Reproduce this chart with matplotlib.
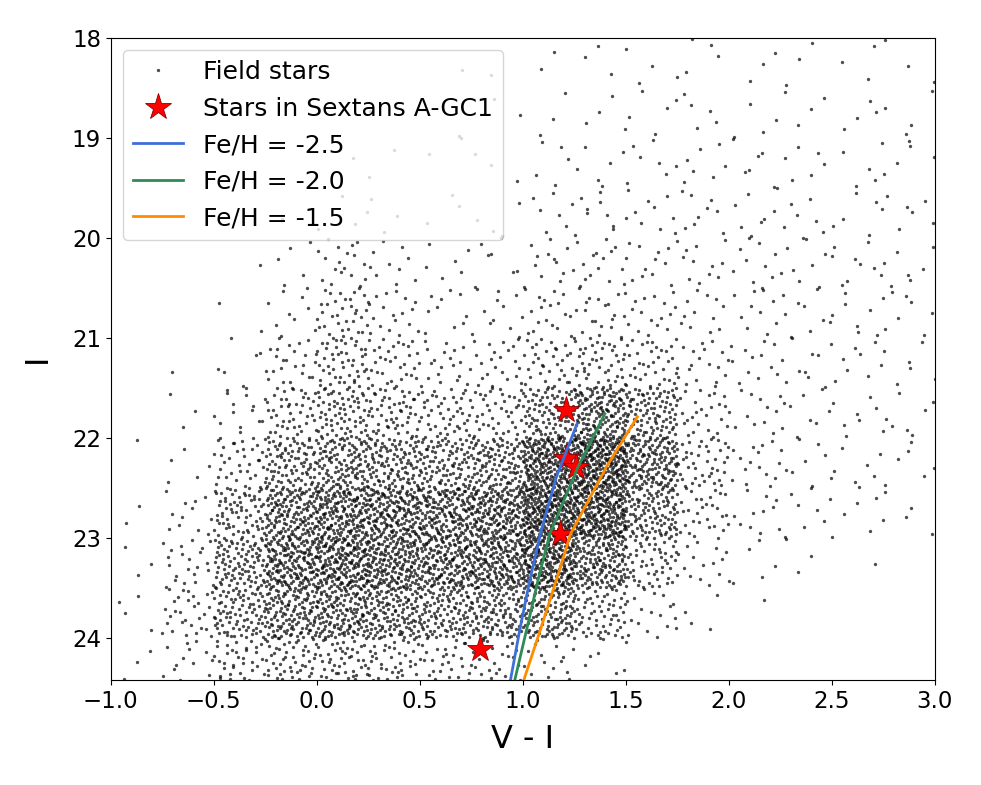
import numpy as np
import matplotlib
matplotlib.use('Agg')
import matplotlib.pyplot as plt

# field stars: counts per cell (V-I step 0.25, I step 0.5)
vi_edges = np.arange(-1.0, 3.01, 0.25)
i_edges = np.arange(18.0, 24.51, 0.5)
field_counts = [
    # -1.0 ... 3.0 in V-I
    [0, 0, 0, 0, 0, 0, 1, 1, 2, 3, 4, 4, 3, 3, 3, 3],                   # 18.0-18.5
    [0, 0, 0, 0, 0, 1, 1, 2, 3, 4, 5, 5, 4, 4, 4, 4],                   # 18.5-19.0
    [0, 0, 0, 0, 1, 2, 2, 3, 5, 6, 7, 7, 6, 6, 5, 5],                   # 19.0-19.5
    [0, 0, 0, 1, 4, 3, 3, 4, 7, 10, 9, 9, 8, 7, 6, 6],                  # 19.5-20.0
    [0, 0, 1, 5, 18, 10, 6, 7, 13, 15, 13, 11, 10, 9, 8, 7],            # 20.0-20.5
    [0, 0, 2, 10, 35, 18, 10, 12, 18, 20, 16, 12, 10, 9, 8, 7],         # 20.5-21.0
    [0, 1, 6, 25, 50, 32, 20, 22, 35, 45, 35, 18, 12, 10, 8, 6],        # 21.0-21.5
    [0, 3, 16, 45, 70, 55, 45, 40, 90, 150, 100, 25, 12, 9, 8, 7],      # 21.5-22.0
    [1, 5, 35, 90, 115, 105, 95, 110, 230, 280, 150, 40, 15, 9, 7, 6],  # 22.0-22.5
    [2, 12, 70, 150, 180, 175, 165, 180, 280, 250, 110, 30, 11, 8, 6, 4],  # 22.5-23.0
    [3, 22, 95, 175, 195, 180, 165, 180, 240, 150, 55, 15, 5, 3, 1, 0],    # 23.0-23.5
    [4, 30, 85, 130, 140, 125, 105, 110, 120, 60, 18, 4, 1, 0, 0, 0],      # 23.5-24.0
    [3, 15, 40, 55, 55, 45, 32, 25, 18, 8, 2, 0, 0, 0, 0, 0],              # 24.0-24.5
]

# stars in Sextans A-GC1
gc_vi = [1.21, 1.21, 1.26, 1.18, 0.79]
gc_i = [21.72, 22.20, 22.29, 22.96, 24.11]

# isochrones
iso_labels = ['Fe/H = -2.5', 'Fe/H = -2.0', 'Fe/H = -1.5']
iso_colors = ['#3d6fd9', '#2e8b57', '#ff8c00']
iso_i = [
    [21.86, 22.39, 22.92, 23.42, 23.92, 24.42],
    [21.76, 22.29, 22.96, 23.42, 23.92, 24.42],
    [21.79, 22.29, 22.96, 23.42, 23.92, 24.42],
]
iso_vi = [
    [1.263, 1.163, 1.090, 1.034, 0.985, 0.940],
    [1.398, 1.268, 1.131, 1.074, 1.018, 0.961],
    [1.556, 1.406, 1.232, 1.163, 1.085, 1.005],
]


def radical_inverse(idx, base):
    # van der Corput sequence, used to spread a cell's count over the cell
    out = np.zeros(len(idx))
    f = 1.0 / base
    idx = idx.copy()
    while np.any(idx > 0):
        out += f * (idx % base)
        idx //= base
        f /= base
    return out


xs, ys = [], []
for r, row in enumerate(field_counts):
    for c, n in enumerate(row):
        if n == 0:
            continue
        k = np.arange(n) + (r * 16 + c) * 211 + 1
        xs.append(vi_edges[c] + radical_inverse(k, 2) * 0.25)
        ys.append(i_edges[r] + radical_inverse(k, 3) * 0.5)
field_vi = np.concatenate(xs)
field_i = np.concatenate(ys)

fig = plt.figure(figsize=(9.81, 7.85), dpi=100)
ax = fig.add_axes([0.113, 0.134, 0.840, 0.818])

ax.plot(field_vi, field_i, 'o', color='k', ms=2.4, alpha=0.7, mew=0,
        label='Field stars')
ax.plot(gc_vi, gc_i, '*', color='red', mec='#8b0000', mew=0.6, ms=20,
        ls='none', label='Stars in Sextans A-GC1')
for lab, col, vi, ii in zip(iso_labels, iso_colors, iso_vi, iso_i):
    ax.plot(vi, ii, color=col, lw=2, label=lab)

ax.set_xlim(-1.0, 3.0)
ax.set_ylim(24.42, 18.0)
ax.set_yticks([18, 19, 20, 21, 22, 23, 24])
ax.tick_params(labelsize=16.5)
ax.set_xlabel('V - I', fontsize=23, labelpad=8)
ax.set_ylabel('I', fontsize=23, labelpad=14)

ax.legend(loc='upper left', fontsize=18)

plt.savefig('out.png', dpi=100)
